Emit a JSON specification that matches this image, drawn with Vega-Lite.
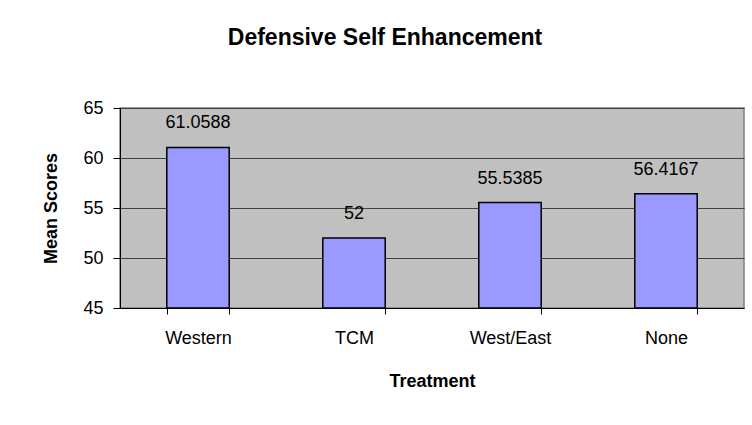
{
  "$schema": "https://vega.github.io/schema/vega-lite/v6.json",
  "width": 624,
  "height": 200,
  "autosize": {"type": "none"},
  "padding": {"left": 120, "top": 108, "right": 8, "bottom": 117},
  "background": "white",
  "title": {
    "text": "Defensive Self Enhancement",
    "font": "Liberation Sans",
    "fontSize": 23,
    "fontWeight": "bold",
    "color": "black",
    "anchor": "middle",
    "dx": -47,
    "offset": 49
  },
  "data": {
    "values": [
      {"Treatment": "Western", "Score": 61.0588, "Label": "61.0588"},
      {"Treatment": "TCM", "Score": 52, "Label": "52"},
      {"Treatment": "West/East", "Score": 55.5385, "Label": "55.5385"},
      {"Treatment": "None", "Score": 56.4167, "Label": "56.4167"}
    ]
  },
  "encoding": {
    "x": {
      "field": "Treatment",
      "type": "nominal",
      "sort": null,
      "scale": {"paddingInner": 0.6, "paddingOuter": 0.3},
      "axis": {
        "title": "Treatment",
        "labelAngle": 0,
        "labelFont": "Liberation Sans",
        "labelFontSize": 18,
        "labelColor": "black",
        "labelPadding": 15,
        "ticks": true,
        "tickBand": "extent",
        "tickSize": 6,
        "tickWidth": 1,
        "tickColor": "black",
        "domainColor": "black",
        "titleFont": "Liberation Sans",
        "titleFontSize": 18,
        "titleFontWeight": "bold",
        "titleColor": "black",
        "titlePadding": 25,
        "zindex": 1
      }
    },
    "y": {
      "field": "Score",
      "type": "quantitative",
      "scale": {"domain": [45, 65], "nice": false, "zero": false},
      "axis": {
        "title": "Mean Scores",
        "values": [45, 50, 55, 60, 65],
        "labelFont": "Liberation Sans",
        "labelFontSize": 18,
        "labelColor": "black",
        "labelPadding": 10,
        "tickSize": 7,
        "tickColor": "black",
        "domainColor": "black",
        "gridColor": "#404040",
        "gridOpacity": 1,
        "titleFont": "Liberation Sans",
        "titleFontSize": 18,
        "titleFontWeight": "bold",
        "titleColor": "black",
        "titlePadding": 22
      }
    }
  },
  "layer": [
    {
      "mark": {"type": "bar", "fill": "#9999FF", "stroke": "black", "strokeWidth": 1.5},
      "encoding": {"y2": {"datum": 45}}
    },
    {
      "mark": {"type": "text", "baseline": "alphabetic", "dy": -19, "font": "Liberation Sans", "fontSize": 18, "color": "black"},
      "encoding": {"text": {"field": "Label"}}
    }
  ],
  "config": {
    "view": {"fill": "#C0C0C0", "stroke": "#808080", "strokeWidth": 1.5}
  }
}
